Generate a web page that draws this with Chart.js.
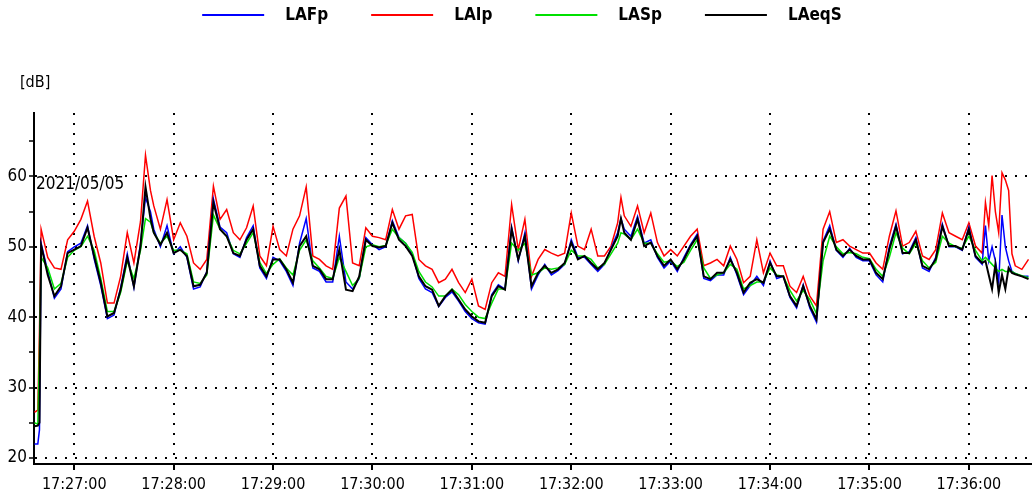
<!DOCTYPE html>
<html>
<head>
<meta charset="utf-8">
<script src="https://cdn.jsdelivr.net/npm/chart.js@4/dist/chart.umd.min.js"></script>
<style>
  body { margin: 0; background: #fff; }
</style>
</head>
<body>
<canvas id="chart" width="1032" height="504"></canvas>
<script>
const FONT = '"Liberation Sans Narrow", "DejaVu Sans Condensed", "Liberation Sans", sans-serif';

// seconds after 17:27:00
const startSec = 17 * 3600 + 27 * 60;
const minuteTicks = [0, 60, 120, 180, 240, 300, 360, 420, 480, 540];
const times = [
  -24, -22, -21, -20, -16, -12, -8, -4, 0, 4,
  8, 12, 16, 20, 24, 28, 32, 36, 40, 43,
  46, 48, 52, 56, 60, 64, 68, 72, 76, 80,
  84, 88, 92, 96, 100, 104, 108, 112, 116, 120,
  124, 128, 132, 136, 140, 144, 148, 152, 156, 160,
  164, 168, 172, 176, 180, 184, 188, 192, 196, 200,
  204, 208, 212, 216, 220, 224, 228, 232, 236, 240,
  244, 248, 252, 256, 260, 264, 268, 272, 276, 280,
  284, 288, 292, 296, 300, 304, 308, 312, 316, 320,
  324, 328, 330, 332, 336, 340, 344, 348, 352, 356,
  360, 364, 368, 372, 376, 380, 384, 388, 392, 396,
  400, 404, 408, 412, 416, 420, 424, 428, 432, 436,
  440, 444, 448, 452, 456, 460, 464, 468, 472, 476,
  480, 484, 488, 492, 496, 500, 504, 508, 512, 516,
  520, 524, 528, 532, 536, 540, 544, 548, 550, 552,
  554, 556, 558, 560, 562, 564, 566, 568, 572, 576
];

const laeqs = [
  24.5, 24.6, 25.0, 50.2, 46.0, 43.0, 44.4, 49.1, 49.6, 50.1,
  52.7, 48.7, 44.9, 40.1, 40.6, 43.9, 48.5, 44.4, 50.1, 58.5,
  54.0, 52.0, 50.3, 52.0, 49.1, 49.6, 48.7, 44.4, 44.6, 46.3,
  56.3, 52.5, 51.5, 49.1, 48.7, 51.0, 52.5, 47.3, 45.8, 48.2,
  48.2, 46.8, 44.9, 50.1, 51.5, 47.3, 46.8, 45.4, 45.4, 49.6,
  43.9, 43.7, 45.8, 51.0, 50.1, 49.9, 50.1, 53.4, 51.0, 50.1,
  48.7, 45.8, 44.4, 43.9, 41.6, 43.0, 43.9, 42.5, 41.1, 40.1,
  39.4, 39.2, 43.0, 44.4, 43.9, 52.5, 48.2, 51.5, 44.4, 46.3,
  47.3, 46.3, 46.8, 47.7, 50.6, 48.2, 48.7, 47.7, 46.8, 47.7,
  49.6, 51.5, 54.0, 52.0, 51.0, 53.9, 50.1, 50.6, 48.7, 47.3,
  48.2, 46.8, 48.2, 50.1, 51.5, 45.8, 45.4, 46.3, 46.3, 48.2,
  46.3, 43.5, 44.9, 45.4, 44.9, 47.7, 45.8, 45.8, 43.0, 41.6,
  44.4, 41.6, 39.7, 50.6, 52.5, 49.6, 48.7, 49.6, 48.7, 48.2,
  48.2, 46.3, 45.4, 49.6, 52.9, 49.1, 49.1, 51.0, 47.3, 46.8,
  48.2, 52.9, 50.1, 50.1, 49.6, 52.5, 48.7, 47.7, 48.0, 46.0,
  44.0, 47.5, 43.5, 46.0, 44.0, 47.0, 46.3, 46.1, 45.8, 45.4
];

const laip = [
  26.5, 26.8, 38.0, 52.5, 48.5, 47.0, 46.8, 51.0, 52.2, 53.9,
  56.5, 51.5, 47.7, 42.0, 42.0, 45.8, 52.0, 47.7, 53.6, 63.0,
  58.0, 55.8, 52.5, 56.7, 51.0, 53.4, 51.5, 47.7, 46.8, 48.2,
  58.6, 53.9, 55.3, 52.0, 51.0, 52.7, 55.8, 48.7, 47.3, 52.9,
  49.6, 48.7, 52.5, 54.4, 58.5, 48.7, 48.2, 47.3, 46.8, 55.5,
  57.2, 47.7, 47.3, 52.7, 51.5, 51.3, 51.0, 55.3, 52.5, 54.4,
  54.6, 48.2, 47.3, 46.8, 44.9, 45.4, 46.8, 44.9, 43.5, 45.4,
  41.6, 41.1, 44.9, 46.3, 45.8, 56.0, 49.6, 53.9, 45.8, 48.2,
  49.6, 49.1, 48.7, 49.1, 54.8, 50.1, 49.6, 52.5, 48.7, 48.7,
  50.1, 53.4, 57.0, 54.4, 52.9, 55.8, 52.0, 54.8, 50.6, 48.7,
  49.6, 48.7, 50.1, 51.5, 52.5, 47.3, 47.7, 48.2, 47.3, 50.1,
  48.2, 44.9, 45.8, 51.0, 46.3, 49.1, 47.3, 47.3, 44.4, 43.5,
  45.8, 43.0, 41.6, 52.5, 55.0, 50.6, 51.0, 50.1, 49.6, 49.1,
  49.1, 47.7, 46.8, 51.5, 55.1, 50.1, 50.6, 52.2, 48.7, 48.2,
  49.6, 54.8, 52.0, 51.5, 51.0, 53.4, 50.1, 49.1, 56.3, 53.0,
  60.1, 55.0, 52.0, 60.5, 59.5, 58.0, 49.0, 47.3, 46.8, 48.2
];

const lafp = [
  22.0, 22.0, 24.0, 50.5, 46.5, 42.7, 44.0, 49.3, 50.0, 50.5,
  53.0, 48.3, 44.5, 39.8, 40.3, 44.2, 49.0, 44.2, 50.5, 57.0,
  55.0, 52.5, 50.0, 53.0, 49.0, 50.0, 48.5, 44.0, 44.3, 46.5,
  56.8, 52.8, 52.0, 49.0, 48.5, 51.3, 53.0, 47.0, 45.5, 48.5,
  48.0, 46.5, 44.5, 50.5, 54.0, 47.0, 46.5, 45.0, 45.0, 51.5,
  45.0, 44.0, 45.5, 51.3, 50.3, 49.6, 50.0, 53.7, 51.3, 50.5,
  49.0, 45.5, 44.0, 43.5, 41.5, 42.8, 43.6, 42.3, 40.8, 39.8,
  39.2, 39.0, 43.2, 44.6, 44.0, 52.8, 48.0, 52.0, 44.0, 46.0,
  47.5, 46.0, 46.6, 47.5, 51.0, 48.5, 48.5, 47.5, 46.5, 47.5,
  49.8, 52.0, 54.0, 52.5, 51.5, 54.3, 50.5, 51.0, 48.5, 47.0,
  48.0, 46.5, 48.5, 50.3, 51.8, 45.5, 45.2, 46.0, 46.0, 48.5,
  46.0, 43.2, 44.5, 45.8, 44.5, 48.0, 45.5, 45.8, 42.8, 41.3,
  44.6, 41.3, 39.3, 50.8, 53.0, 49.5, 48.5, 49.8, 48.5, 48.0,
  48.0, 46.0, 45.0, 50.0, 53.2, 49.0, 49.3, 51.3, 47.0, 46.5,
  48.5, 53.2, 50.0, 50.0, 49.5, 52.8, 48.5, 47.5, 53.0, 48.0,
  50.0, 48.0, 45.0, 54.5, 50.0, 48.0, 46.5, 46.2, 45.8, 45.8
];

const lasp = [
  25.0, 24.8, 35.0, 48.5, 47.0, 44.0, 44.8, 48.5, 49.5, 50.0,
  51.5, 49.5, 45.5, 40.8, 40.8, 43.5, 48.0, 45.5, 49.5, 54.0,
  53.5, 52.0, 50.5, 51.5, 49.5, 49.5, 49.0, 45.0, 44.8, 46.0,
  54.5, 52.5, 51.5, 49.5, 49.0, 50.5, 52.0, 47.8, 46.2, 47.5,
  48.3, 47.0, 46.0, 49.5, 51.0, 48.0, 47.0, 45.8, 45.5, 48.5,
  46.5, 44.5, 45.5, 50.0, 50.3, 50.0, 50.2, 52.5, 51.3, 50.5,
  49.2, 46.5, 45.0, 44.3, 43.0, 43.0, 44.0, 43.2, 41.8, 40.8,
  40.0, 39.8, 42.0, 44.0, 44.0, 50.5, 49.5, 50.5, 46.0, 46.3,
  47.0, 46.8, 47.0, 47.5, 49.5, 48.7, 48.7, 48.2, 47.0, 47.5,
  49.0, 50.5, 52.0, 51.8, 51.0, 52.5, 50.5, 50.5, 49.0, 47.8,
  48.0, 47.2, 47.8, 49.5, 51.0, 47.0, 45.5, 46.0, 46.3, 47.5,
  46.8, 44.0, 44.5, 45.0, 45.0, 47.0, 46.0, 45.8, 43.8, 42.3,
  43.8, 42.5, 40.5, 48.0, 51.5, 50.0, 49.0, 49.2, 49.0, 48.5,
  48.3, 46.8, 45.8, 48.5, 52.0, 49.8, 49.0, 50.5, 48.0, 47.0,
  47.8, 51.5, 50.5, 50.0, 49.8, 51.5, 49.5, 48.0, 48.5, 48.0,
  47.5, 47.0, 46.5, 46.8, 46.5, 46.5, 46.5, 46.2, 45.9, 45.6
];

const seriesNames = ["LAFp", "LAIp", "LASp", "LAeqS"];
const seriesColors = ["#0000ff", "#ff0000", "#00e000", "#000000"];
const seriesValues = [lafp, laip, lasp, laeqs];
const drawOrder = [2, 3, 1, 0];

function hms(sec) {
  const h = Math.floor(sec / 3600);
  const m = Math.floor((sec % 3600) / 60);
  const s = Math.round(sec % 60);
  return h + ":" + String(m).padStart(2, "0") + ":" + String(s).padStart(2, "0");
}

// legend and free texts
const textPlugin = {
  id: "texts",
  afterDraw(chart) {
    const ctx = chart.ctx;
    ctx.save();
    ctx.fillStyle = "#000";
    ctx.textBaseline = "middle";
    ctx.font = "16px " + FONT;
    ctx.textAlign = "left";
    ctx.fillText("[dB]", 20, 83);
    ctx.font = "17px " + FONT;
    ctx.fillText("2021/05/05", 36, 185);

    ctx.font = "bold 17px " + FONT;
    const lineLen = 62, gap = 21, itemGap = 43;
    const widths = seriesNames.map(n => ctx.measureText(n).width);
    let total = itemGap * (seriesNames.length - 1);
    widths.forEach(w => { total += lineLen + gap + w; });
    let x = 522 - total / 2;
    const y = 15;
    seriesNames.forEach((name, i) => {
      ctx.strokeStyle = seriesColors[i];
      ctx.lineWidth = 2;
      ctx.beginPath();
      ctx.moveTo(x, y);
      ctx.lineTo(x + lineLen, y);
      ctx.stroke();
      ctx.fillText(name, x + lineLen + gap, y + 1);
      x += lineLen + gap + widths[i] + itemGap;
    });
    ctx.restore();
  }
};

const ctx = document.getElementById("chart");
const myChart = new Chart(ctx, {
  type: "line",
  data: {
    datasets: seriesNames.map((name, i) => ({
      label: name,
      data: times.map((t, j) => ({ x: startSec + t, y: seriesValues[i][j] })),
      borderColor: seriesColors[i],
      borderWidth: i === 3 ? 2 : 1.5,
      pointRadius: 0,
      tension: 0,
      fill: false,
      order: drawOrder[i],
    })),
  },
  options: {
    responsive: false,
    animation: false,
    layout: { padding: { top: 113, right: 1, left: 0, bottom: 0 } },
    plugins: {
      legend: { display: false },
      tooltip: { enabled: false },
    },
    scales: {
      x: {
        type: "linear",
        min: startSec - 24.3,
        max: startSec + 577.5,
        afterFit: (scale) => { scale.height = 40; },
        afterBuildTicks: (scale) => {
          scale.ticks = minuteTicks.map((t) => ({ value: startSec + t }));
        },
        ticks: {
          autoSkip: false,
          maxRotation: 0,
          padding: 5,
          color: "#000",
          font: { family: FONT, size: 16 },
          callback: (v) => hms(v),
        },
        grid: {
          color: "#000",
          lineWidth: 2,
          tickLength: 6,
          tickColor: "#000",
          tickWidth: 2,
          tickBorderDash: [],
        },
        border: { display: true, color: "#000", width: 2, dash: [2, 8] },
      },
      y: {
        min: 19.15,
        max: 69.0,
        afterFit: (scale) => { scale.width = 34; },
        ticks: {
          stepSize: 5,
          includeBounds: false,
          autoSkip: false,
          padding: 2,
          color: "#000",
          font: { family: FONT, size: 17 },
          callback: (v) => (v % 10 === 0 ? v : ""),
        },
        grid: {
          color: (c) => (c.tick && c.tick.value % 10 === 0 ? "#000" : "rgba(0,0,0,0)"),
          lineWidth: 2,
          tickLength: 5,
          tickColor: "#000",
          tickWidth: 1.5,
          tickBorderDash: [],
        },
        border: { display: true, color: "#000", width: 2, dash: [2, 8] },
      },
    },
  },
  plugins: [textPlugin],
});
</script>
</body>
</html>
